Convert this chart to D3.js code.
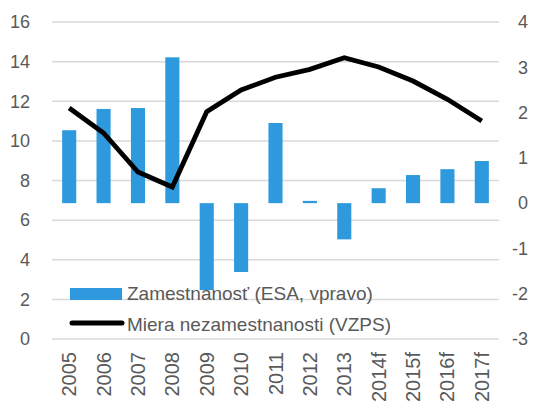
<!DOCTYPE html>
<html>
<head>
<meta charset="utf-8">
<script src="https://cdn.jsdelivr.net/npm/d3@7"></script>
<style>
  html, body { margin: 0; padding: 0; background: #fff; }
  svg { display: block; font-family: "Liberation Sans", Arial, sans-serif; }
</style>
</head>
<body>
<svg id="chart" width="540" height="403"></svg>
<script>
// Years (f = forecast)
const years = ["2005","2006","2007","2008","2009","2010","2011","2012","2013","2014f","2015f","2016f","2017f"];
// Employment growth, ESA (%), right axis
const employment = [1.61, 2.08, 2.1, 3.22, -1.92, -1.52, 1.77, 0.05, -0.8, 0.33, 0.62, 0.75, 0.93];
// Unemployment rate, LFS (%), left axis
const unemployment = [11.66, 10.4, 8.43, 7.67, 11.47, 12.57, 13.21, 13.61, 14.2, 13.73, 13.02, 12.1, 11.0];
// Tick labels
const leftTicks = [0, 2, 4, 6, 8, 10, 12, 14, 16];
const rightTicks = [-3, -2, -1, 0, 1, 2, 3, 4];
const legendLabels = ["Zamestnanosť (ESA, vpravo)", "Miera nezamestnanosti (VZPS)"];

const barColor = "#2e99dc";
const textColor = "#595959";
const gridColor = "#d9d9d9";

const plot = { left: 52, right: 499, top: 22, bottom: 339 };
const svg = d3.select("#chart");

const x = d3.scaleBand()
  .domain(years)
  .range([plot.left, plot.right])
  .paddingInner(0.59)
  .paddingOuter(0.295);

const yLeft = d3.scaleLinear().domain([0, 16]).range([plot.bottom, plot.top]);
const yRight = d3.scaleLinear().domain([-3, 4]).range([plot.bottom, plot.top]);

// Horizontal gridlines (left axis)
svg.append("g")
  .selectAll("line")
  .data(leftTicks)
  .join("line")
  .attr("x1", plot.left).attr("x2", plot.right)
  .attr("y1", d => yLeft(d)).attr("y2", d => yLeft(d))
  .attr("stroke", gridColor).attr("stroke-width", 1.5);

// Plain number labels with an ASCII hyphen for negatives
const plain = d => String(d);

// Left axis labels
const leftAxis = d3.axisLeft(yLeft).tickValues(leftTicks).tickFormat(plain).tickSize(0).tickPadding(0);
const gL = svg.append("g").attr("transform", "translate(30,0)").call(leftAxis);
gL.select(".domain").remove();
gL.selectAll("text").attr("fill", textColor).style("font-size", "18px")
  .style("font-family", "'Liberation Sans', Arial, sans-serif");

// Right axis labels
const rightAxis = d3.axisLeft(yRight).tickValues(rightTicks).tickFormat(plain).tickSize(0).tickPadding(0);
const gR = svg.append("g").attr("transform", "translate(528,0)").call(rightAxis);
gR.select(".domain").remove();
gR.selectAll("text").attr("fill", textColor).style("font-size", "18px")
  .style("font-family", "'Liberation Sans', Arial, sans-serif");

// Employment bars
svg.append("g")
  .selectAll("rect")
  .data(years.map((y, i) => ({ year: y, v: employment[i] })))
  .join("rect")
  .attr("x", d => x(d.year))
  .attr("width", x.bandwidth())
  .attr("y", d => yRight(Math.max(0, d.v)))
  .attr("height", d => Math.abs(yRight(d.v) - yRight(0)))
  .attr("fill", barColor);

// Unemployment line
const line = d3.line()
  .x((d, i) => x(years[i]) + x.bandwidth() / 2)
  .y(d => yLeft(d));
svg.append("path")
  .datum(unemployment)
  .attr("d", line)
  .attr("fill", "none")
  .attr("stroke", "#000")
  .attr("stroke-width", 4.8)
  .attr("stroke-linejoin", "miter");

// X axis labels (rotated)
svg.append("g")
  .selectAll("text")
  .data(years)
  .join("text")
  .attr("transform", d => `translate(${x(d) + x.bandwidth() / 2},352) rotate(-90)`)
  .attr("text-anchor", "end")
  .attr("dy", "0.35em")
  .attr("fill", textColor)
  .style("font-size", "20px")
  .text(d => d);

// Legend
const lg = svg.append("g");
lg.append("rect").attr("x", 70).attr("y", 288).attr("width", 52).attr("height", 12).attr("fill", barColor);
lg.append("line").attr("x1", 72).attr("x2", 122).attr("y1", 323).attr("y2", 323)
  .attr("stroke", "#000").attr("stroke-width", 5).attr("stroke-linecap", "round");
lg.selectAll("text")
  .data(legendLabels)
  .join("text")
  .attr("x", 127)
  .attr("y", (d, i) => i === 0 ? 300 : 331)
  .attr("fill", textColor)
  .style("font-size", "19px")
  .text(d => d);
</script>
</body>
</html>
